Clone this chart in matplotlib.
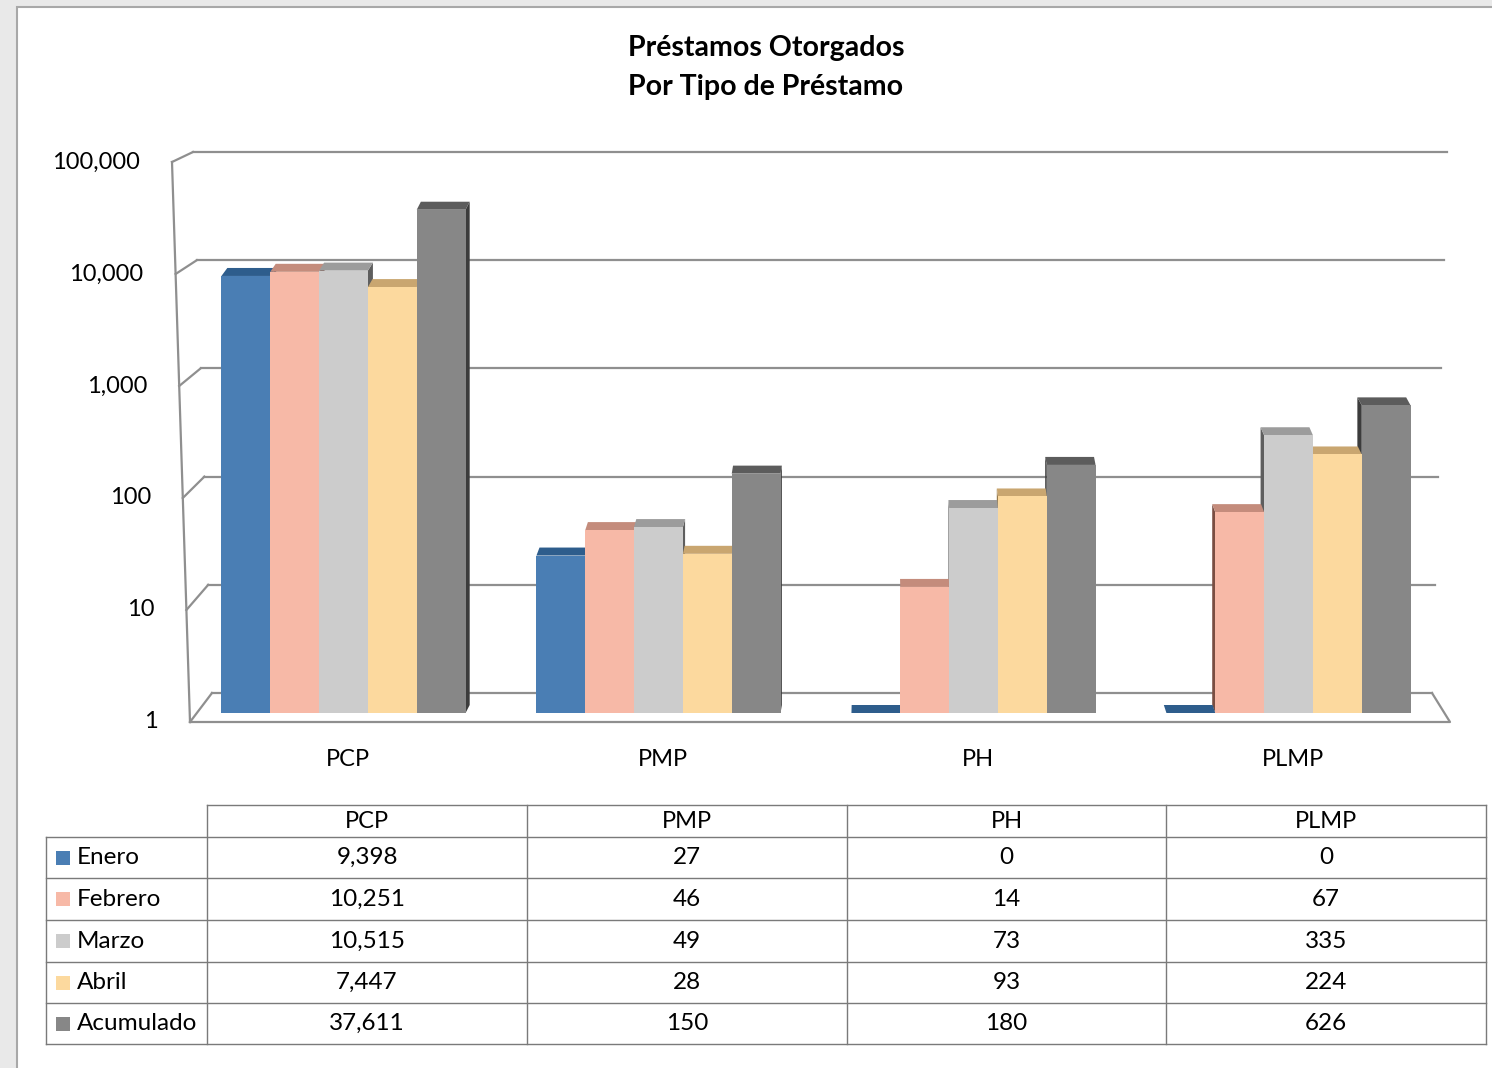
import matplotlib
matplotlib.use("Agg")
import matplotlib.pyplot as plt
import matplotlib.transforms as mtransforms
from matplotlib.patches import Polygon, Rectangle
import numpy as np

plt.rcParams['font.family'] = ['Lato', 'DejaVu Sans']

# ---- data ----
title_lines = ["Préstamos Otorgados", "Por Tipo de Préstamo"]
categories = ["PCP", "PMP", "PH", "PLMP"]
series = ["Enero", "Febrero", "Marzo", "Abril", "Acumulado"]
enero = [9398, 27, 0, 0]
febrero = [10251, 46, 14, 67]
marzo = [10515, 49, 73, 335]
abril = [7447, 28, 93, 224]
acumulado = [37611, 150, 180, 626]
values = [enero, febrero, marzo, abril, acumulado]
y_ticks = [1, 10, 100, 1000, 10000, 100000]

front_cols = ["#4a7eb4", "#f7b9a7", "#cccccc", "#fcd99e", "#878787"]
top_cols = ["#2e5d8c", "#c48c7c", "#9c9c9c", "#c9a670", "#5c5c5c"]
side_cols = ["#1f4670", "#7a4e42", "#5e5e5e", "#8c6e3e", "#3c3c3c"]

W, H = 1492, 1068
fig = plt.figure(figsize=(W / 100, H / 100), dpi=100)
fig.patch.set_facecolor("#e9e9e9")


def px_axes(l, t, r, b, **kw):
    return fig.add_axes([l / W, 1 - b / H, (r - l) / W, (b - t) / H], **kw)


# overlay in pixel units for frame, walls and table
ov = px_axes(0, 0, W, H)
ov.set_xlim(0, W)
ov.set_ylim(H, 0)
ov.axis("off")
ov.add_patch(Rectangle((17, 7), W, H, facecolor="white", edgecolor="#a8a8a8", lw=1.5, zorder=0))

# title
for k, line in enumerate(title_lines):
    ov.text(766, 48 + 39 * k, line, ha="center", va="center", fontsize=20.5, fontweight="bold")

# back wall and front edge scales (log)
ax_back = px_axes(202, 152, 1440, 693)
ax_front = px_axes(181, 162, 1450, 722)
for a in (ax_back, ax_front):
    a.set_yscale("log")
    a.set_ylim(1, 100000)
    a.axis("off")

gcol = "#8f8f8f"
for v in y_ticks:
    yb = H - ax_back.transData.transform((0, v))[1]
    yf = H - ax_front.transData.transform((0, v))[1]
    frac = np.log10(v) / 5
    xb0 = 212 - 19 * frac
    xb1 = 1432 + 15 * frac
    xf = 190 - 18 * frac
    ov.plot([xb0, xb1], [yb, yb], color=gcol, lw=1.6, zorder=1)
    ov.plot([xf, xb0], [yf, yb], color=gcol, lw=1.6, zorder=1)
    ov.text(158 - 18 * frac, yf, f"{v:,}", ha="right", va="center", fontsize=17)
# left front edge and floor
ov.plot([190, 172], [722, 162], color=gcol, lw=1.6, zorder=1)
ov.plot([190, 1450, 1432], [722, 722, 693], color=gcol, lw=1.6, zorder=1)

# ---- bars ----
ax = px_axes(186, 163, 1446, 713)
ax.set_yscale("log")
ax.set_ylim(1, 100000)
ax.set_xlim(-0.5, 3.5)
ax.patch.set_visible(False)
for s in ax.spines.values():
    s.set_visible(False)
ax.set_yticks([])
ax.minorticks_off()
ax.set_yticks([], minor=True)
ax.set_xticks(range(len(categories)))
ax.set_xticklabels(categories, fontsize=17)
ax.tick_params(axis="x", length=0, pad=26)
shift = mtransforms.ScaledTranslation(4 / 100, 0, fig.dpi_scale_trans)
for lab in ax.get_xticklabels():
    lab.set_transform(lab.get_transform() + shift)

w = 0.155
x = np.arange(len(categories))
ident = mtransforms.IdentityTransform()
dy = 8
vp = 900
kk = -0.009

for j, vals in enumerate(values):
    vals = np.array(vals, dtype=float)
    tops = np.maximum(vals, 1)
    xs = x + (j - 2) * w
    ax.bar(xs, tops - 1, bottom=1, width=w, color=front_cols[j], zorder=3, linewidth=0)
    for xc, t in zip(xs, tops):
        x0, yb = ax.transData.transform((xc - w / 2, 1))
        x1, yt = ax.transData.transform((xc + w / 2, t))
        xm = (x0 + x1) / 2
        dx = kk * (xm - vp)
        # side face
        xe = x1 if dx > 0 else x0
        side = [(xe, yb), (xe, yt), (xe + dx, yt + dy), (xe + dx, yb + dy)]
        ax.add_patch(Polygon(side, closed=True, transform=ident, clip_on=False,
                             facecolor=side_cols[j], edgecolor="none", zorder=1))
        top = [(x0, yt), (x1, yt), (x1 + dx, yt + dy), (x0 + dx, yt + dy)]
        ax.add_patch(Polygon(top, closed=True, transform=ident, clip_on=False,
                             facecolor=top_cols[j], edgecolor="none", zorder=2))

# ---- data table ----
col_edges = [46, 207, 527, 847, 1166, 1486]
row_edges = [805, 837, 878, 920, 962, 1003, 1044]
tcol = "#7a7a7a"
# horizontal lines
ov.plot([207, 1486], [805, 805], color=tcol, lw=1)
for yy in row_edges[1:]:
    ov.plot([46, 1486], [yy, yy], color=tcol, lw=1)
# vertical lines
ov.plot([46, 46], [837, 1044], color=tcol, lw=1)
for xx in col_edges[1:]:
    ov.plot([xx, xx], [805, 1044], color=tcol, lw=1)

for c, cat in enumerate(categories):
    cx = (col_edges[c + 1] + col_edges[c + 2]) / 2
    ov.text(cx, (805 + 837) / 2, cat, ha="center", va="center", fontsize=17)
for r, name in enumerate(series):
    cy = (row_edges[r + 1] + row_edges[r + 2]) / 2
    ov.add_patch(Rectangle((56, cy - 7), 14, 14, facecolor=front_cols[r], edgecolor="none"))
    ov.text(77, cy, name, ha="left", va="center", fontsize=17.5)
    for c in range(len(categories)):
        cx = (col_edges[c + 1] + col_edges[c + 2]) / 2
        ov.text(cx, cy, f"{values[r][c]:,}", ha="center", va="center", fontsize=17.5)

fig.savefig("out.png", dpi=100)
